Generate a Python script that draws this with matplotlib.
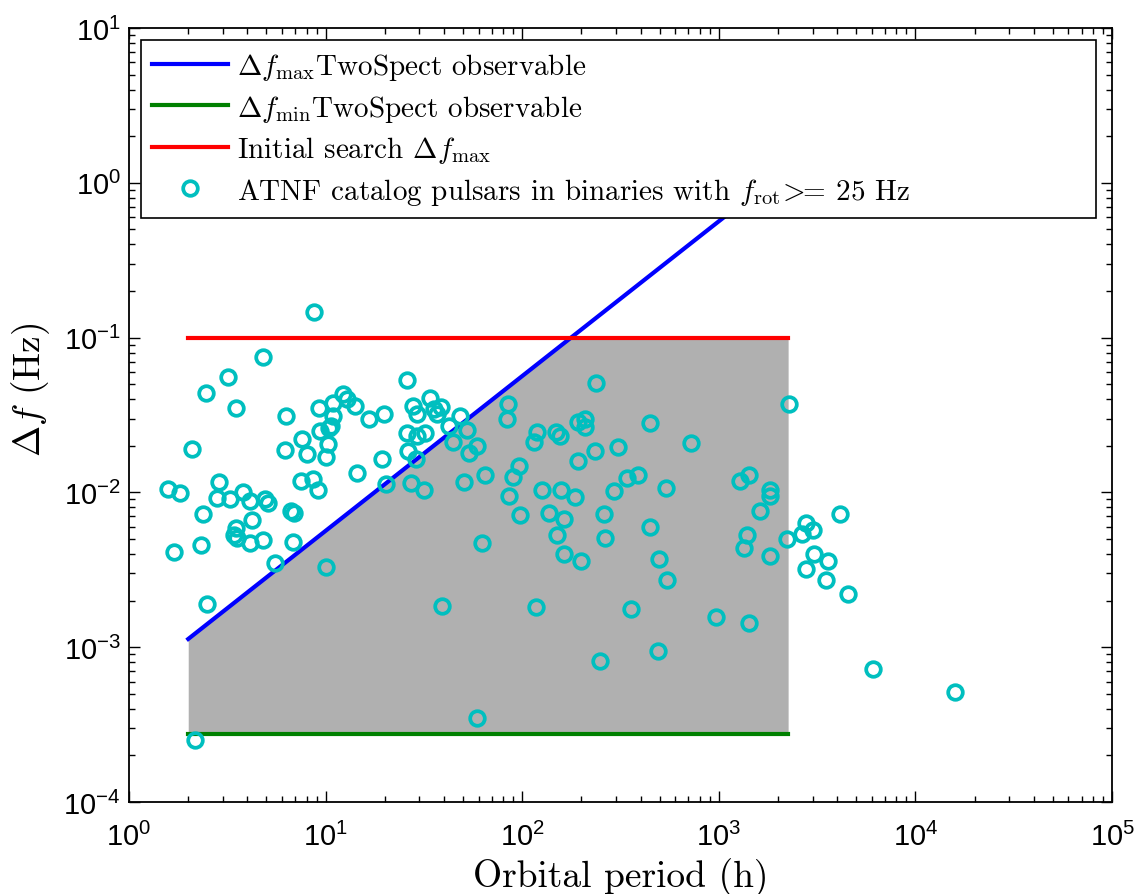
import numpy as np
import matplotlib
matplotlib.use("Agg")
import matplotlib.pyplot as plt

plt.rcParams['font.family'] = ['Liberation Sans', 'DejaVu Sans']
plt.rcParams['mathtext.fontset'] = 'cm'
plt.rcParams['axes.formatter.use_mathtext'] = True

# search band edges (orbital period in h, frequency modulation depth in Hz)
band_period = [2, 2250]
band_df_max = [1.13e-3, 1.27]     # TwoSpect observable upper limit
band_df_min = [2.75e-4, 2.75e-4]  # TwoSpect observable lower limit
search_df_max = [0.1, 0.1]        # initial search limit

# ATNF pulsars in binaries with f_rot >= 25 Hz
pulsar_period = [
    8.7, 4.8, 3.2, 2.45, 3.5, 6.3, 2.1, 6.2, 7.6, 8.0,
    9.2, 10.9, 12.2, 12.8, 14.1, 16.6, 19.9, 10.9, 10.6, 9.4,
    10.4, 10.3, 10.0, 19.4, 14.4, 20.3, 7.5, 8.6, 9.1, 1.58,
    1.82, 2.88, 2.8, 3.25, 3.8, 4.14, 4.9, 5.1, 2.37, 4.2,
    6.7, 6.9, 3.5, 3.4, 3.56, 4.1, 4.8, 6.8, 2.33, 1.7,
    5.5, 10.0, 2.5, 2.17,
    26, 27.7, 29.3, 34, 36.7, 38.5, 35.7, 48.3, 42.6, 26,
    29.1, 32, 26.3, 28.8, 44.3, 52.6, 53.8, 58.7, 27.1, 31.7,
    50.6, 64.7, 85, 83.4, 115, 118.5, 148.6, 155.7, 193, 209,
    209, 237, 235, 306, 193, 96.7, 90, 85.7, 97.5, 126,
    157, 186, 137, 163, 151, 163, 198, 261, 265, 293,
    342, 390, 447, 447, 62.7, 39, 117.5, 356, 249, 59,
    2270, 722, 541, 1277, 1430, 1820, 1820, 1615, 1387, 1343,
    1815, 495, 543, 964, 1424, 489, 2215, 2770, 2640, 3000,
    4150, 3060, 3580, 2790, 3500, 4540, 6080, 15900,
]
pulsar_df = [
    0.147, 0.075, 0.056, 0.044, 0.035, 0.031, 0.019, 0.0187, 0.022, 0.0178,
    0.035, 0.038, 0.043, 0.040, 0.036, 0.030, 0.032, 0.031, 0.027, 0.025,
    0.026, 0.0206, 0.0169, 0.0164, 0.0133, 0.0113, 0.0119, 0.0122, 0.0104, 0.0105,
    0.0099, 0.0116, 0.0092, 0.0090, 0.0101, 0.0088, 0.0091, 0.0086, 0.0073, 0.0066,
    0.0076, 0.0074, 0.0059, 0.0053, 0.0051, 0.0047, 0.0049, 0.0048, 0.0046, 0.0041,
    0.0035, 0.0033, 0.0019, 0.00025,
    0.053, 0.036, 0.032, 0.041, 0.032, 0.0355, 0.0346, 0.031, 0.027, 0.0242,
    0.0232, 0.0242, 0.0186, 0.0164, 0.0213, 0.0253, 0.0179, 0.020, 0.0115, 0.0104,
    0.0117, 0.013, 0.037, 0.0298, 0.0211, 0.0247, 0.0247, 0.023, 0.0284, 0.030,
    0.0264, 0.0507, 0.0184, 0.0197, 0.0159, 0.0149, 0.0126, 0.0095, 0.0071, 0.0104,
    0.0103, 0.0094, 0.0074, 0.0067, 0.0053, 0.0040, 0.0036, 0.0073, 0.0051, 0.0102,
    0.0124, 0.013, 0.028, 0.0060, 0.0047, 0.00184, 0.00181, 0.00177, 0.00081, 0.00035,
    0.0374, 0.0209, 0.0106, 0.0119, 0.013, 0.0104, 0.0095, 0.0076, 0.0053, 0.0044,
    0.0039, 0.0037, 0.0027, 0.00156, 0.00143, 0.00094, 0.0050, 0.0063, 0.0054, 0.0057,
    0.0072, 0.0040, 0.0036, 0.0032, 0.0027, 0.0022, 0.00072, 0.00051,
]

fig = plt.figure(figsize=(11.37, 8.95), dpi=100)
ax = fig.add_axes([0.1135, 0.1028, 0.8646, 0.8648])
ax.set_xscale('log')
ax.set_yscale('log')

# grey area: between the lower limit and min(upper limit, search limit)
lp = np.log10(band_period)
lmax = np.log10(band_df_max)
x_cross = 10 ** np.interp(np.log10(search_df_max[0]), lmax, lp)
fill_x = np.array([band_period[0], x_cross, band_period[1]])
fill_top = np.minimum(10 ** np.interp(np.log10(fill_x), lp, lmax), search_df_max[0])
ax.fill_between(fill_x, band_df_min[0], fill_top, color='#b0b0b0', lw=0, zorder=1)

h1, = ax.plot(band_period, band_df_max, color='#0000ff', lw=3, zorder=2)
h2, = ax.plot(band_period, band_df_min, color='#008000', lw=3, zorder=2)
h3, = ax.plot(band_period, search_df_max, color='#ff0000', lw=3, zorder=2)
h4, = ax.plot(pulsar_period, pulsar_df, ls='none', marker='o', ms=10.5,
              mfc='none', mec='#00bfbf', mew=2.7, zorder=3)

ax.set_xlim(1, 1e5)
ax.set_ylim(1e-4, 10)

ax.tick_params(which='both', direction='in', top=True, right=True, width=1)
ax.tick_params(which='major', length=8, labelsize=21)
ax.tick_params(which='minor', length=4)
ax.tick_params(axis='x', pad=14)
ax.tick_params(axis='y', pad=6)
for s in ax.spines.values():
    s.set_linewidth(1.3)

cm = {'family': 'cmr10', 'size': 27}
ax.set_xlabel('Orbital period (h)', fontdict=cm)
ax.set_ylabel(r'$\Delta f$ (Hz)', fontdict=cm)
ax.xaxis.set_label_coords(0.5, -0.071)
ax.yaxis.set_label_coords(-0.078, 0.534)

labels = [r'$\Delta f_{\rm max}$TwoSpect observable',
          r'$\Delta f_{\rm min}$TwoSpect observable',
          r'Initial search $\Delta f_{\rm max}$',
          r'ATNF catalog pulsars in binaries with $f_{\rm rot}\!>\!\!\!=\!$ 25 Hz']
leg = ax.legend([h1, h2, h3, h4], labels, loc='upper left',
                bbox_to_anchor=(0.0122, 0.9845, 0.9715, 0), mode='expand',
                borderaxespad=0, prop={'family': 'cmr10', 'size': 21},
                handlelength=2.6, handletextpad=0.3, labelspacing=0.36,
                borderpad=0.38, fancybox=False, edgecolor='black', framealpha=1)
leg.get_frame().set_linewidth(1.2)

fig.savefig('out.png', dpi=100)
